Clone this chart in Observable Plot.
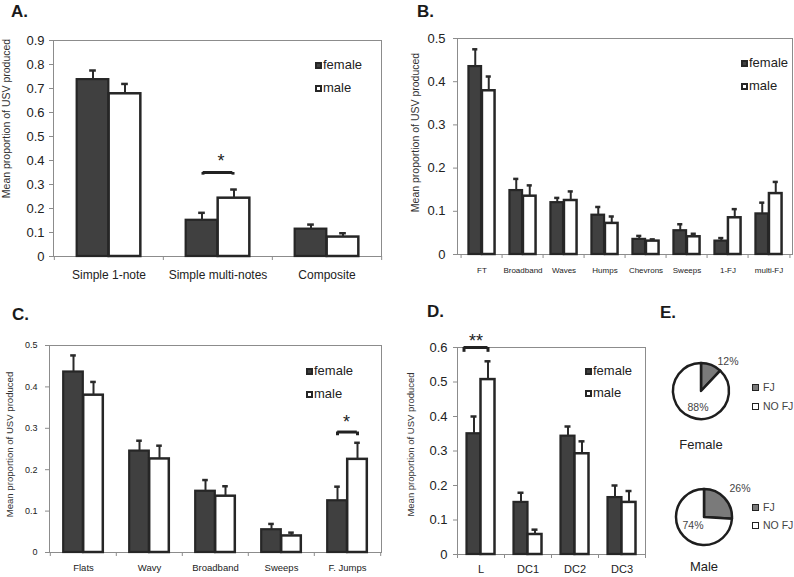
<!DOCTYPE html>
<html><head><meta charset="utf-8">
<script src="https://cdn.jsdelivr.net/npm/d3@7"></script>
<script src="https://cdn.jsdelivr.net/npm/@observablehq/plot@0.6"></script>
<style>
html,body{margin:0;padding:0;background:#fff;}
#root{position:relative;width:794px;height:577px;overflow:hidden;font-family:"Liberation Sans",Arial,sans-serif;color:#222;}
.abs{position:absolute;}
.letter{position:absolute;font-weight:bold;font-size:17px;line-height:17px;color:#1a1a1a;}
.leg{position:absolute;display:flex;align-items:center;height:14px;font-size:13px;line-height:14px;white-space:nowrap;color:#222;}
.sq{box-sizing:border-box;width:7px;height:7px;border:2px solid #262626;margin-right:1px;}
.pleg{position:absolute;display:flex;align-items:center;height:12px;font-size:10.5px;line-height:12px;white-space:nowrap;color:#444;}
.psq{box-sizing:border-box;width:7px;height:7px;border:1.5px solid #222;margin-right:4px;}
.plabel{position:absolute;font-size:13px;line-height:14px;color:#222;transform:translateX(-50%);}
</style></head><body><div id="root"></div>
<script>
// ---------- DATA ----------
const yTitle = "Mean proportion of USV produced";
const sexes = ["female", "male"];

// Panel A
const aCategories = ["Simple 1-note", "Simple multi-notes", "Composite"];
const aFemale   = [0.737, 0.151, 0.114];
const aFemaleUp = [0.775, 0.182, 0.133];
const aMale     = [0.678, 0.243, 0.081];
const aMaleUp   = [0.719, 0.279, 0.097];
const aTicks = [0, 0.1, 0.2, 0.3, 0.4, 0.5, 0.6, 0.7, 0.8, 0.9];

// Panel B
const bCategories = ["FT", "Broadband", "Waves", "Humps", "Chevrons", "Sweeps", "1-FJ", "multi-FJ"];
const bFemale   = [0.435, 0.148, 0.120, 0.091, 0.035, 0.055, 0.031, 0.094];
const bFemaleUp = [0.475, 0.175, 0.131, 0.110, 0.043, 0.070, 0.038, 0.120];
const bMale     = [0.379, 0.135, 0.125, 0.072, 0.031, 0.041, 0.085, 0.141];
const bMaleUp   = [0.412, 0.160, 0.146, 0.088, 0.035, 0.048, 0.105, 0.168];
const bTicks = [0, 0.1, 0.2, 0.3, 0.4, 0.5];

// Panel C
const cCategories = ["Flats", "Wavy", "Broadband", "Sweeps", "F. Jumps"];
const cFemale   = [0.436, 0.245, 0.148, 0.055, 0.125];
const cFemaleUp = [0.476, 0.270, 0.175, 0.069, 0.159];
const cMale     = [0.380, 0.226, 0.136, 0.040, 0.225];
const cMaleUp   = [0.412, 0.258, 0.160, 0.048, 0.265];
const cTicks = [0, 0.1, 0.2, 0.3, 0.4, 0.5];

// Panel D
const dCategories = ["L", "DC1", "DC2", "DC3"];
const dFemale   = [0.350, 0.151, 0.343, 0.165];
const dFemaleUp = [0.400, 0.179, 0.371, 0.200];
const dMale     = [0.507, 0.058, 0.292, 0.151];
const dMaleUp   = [0.560, 0.072, 0.328, 0.184];
const dTicks = [0, 0.1, 0.2, 0.3, 0.4, 0.5, 0.6];

// Significance marks
const aSig = {cat: "Simple multi-notes", y: 0.350, low: 0.339, star: 0.395, text: "*"};
const cSig = {cat: "F. Jumps", y: 0.291, low: 0.282, star: 0.314, text: "*"};
const dSig = {cat: "L", y: 0.600, low: 0.586, star: 0.617, text: "**"};

// Panel E (pies)
const pieSlices = ["FJ", "NO FJ"];
const femalePie = [12, 88];
const malePie = [26, 74];

// ---------- STYLE ----------
const FEMALE_FILL = "#404040", EDGE = "#262626", FRAME = "#8c8c8c";
const root = document.getElementById("root");
const fmt = d => d === 0 ? "0" : d3.format(".1f")(d);

function place(el, left, top) {
  const wrap = document.createElement("div");
  wrap.className = "abs";
  wrap.style.left = left + "px";
  wrap.style.top = top + "px";
  wrap.appendChild(el);
  root.appendChild(wrap);
}

function barPanel(o) {
  const n = o.categories.length;
  const bw = (o.width - o.ml - o.mr) / n, half = bw / 2, w = o.barW, cap = o.capW;
  const rows = (sex, vals, ups) => o.categories.map((c, i) => ({cat: c, sex, v: vals[i], up: ups[i]}));
  const fRows = rows("female", o.female, o.femaleUp);
  const mRows = rows("male", o.male, o.maleUp);
  const errStyle = {stroke: "#2a2a2a", strokeWidth: 2};
  const marks = [
    Plot.frame({stroke: FRAME}),
    Plot.axisY({ticks: o.yTicks, tickSize: 4, tickPadding: o.yPad, tickFormat: fmt, fontSize: o.yFont, stroke: FRAME, fill: "#222", label: null}),
    Plot.axisX({tickSize: 0, tickPadding: o.xPad, fontSize: o.xFont, fill: "#222", label: null}),
    Plot.axisX({tickSize: 4, tickFormat: () => "", dx: -half, stroke: FRAME, label: null}),
    Plot.axisX({ticks: [o.categories[n - 1]], tickSize: 4, tickFormat: () => "", dx: half, stroke: FRAME, label: null}),
    Plot.barY(fRows, {x: "cat", y: "v", fill: FEMALE_FILL, stroke: EDGE, strokeWidth: 2.2, insetLeft: half - w, insetRight: half}),
    Plot.barY(mRows, {x: "cat", y: "v", fill: "#fff", stroke: EDGE, strokeWidth: 2.5, insetLeft: half, insetRight: half - w}),
    Plot.ruleX(fRows, {x: "cat", y1: "v", y2: "up", dx: -w / 2, ...errStyle}),
    Plot.ruleX(mRows, {x: "cat", y1: "v", y2: "up", dx: w / 2, ...errStyle}),
    Plot.tickY(fRows, {x: "cat", y: "up", insetLeft: half - w / 2 - cap / 2, insetRight: half + w / 2 - cap / 2, stroke: "#2a2a2a", strokeWidth: 2.5}),
    Plot.tickY(mRows, {x: "cat", y: "up", insetLeft: half + w / 2 - cap / 2, insetRight: half - w / 2 - cap / 2, stroke: "#2a2a2a", strokeWidth: 2.5}),
    Plot.text([o.title], {frameAnchor: "left", textAnchor: "middle", lineAnchor: "middle", rotate: -90, dx: o.tdx, dy: o.tdy, fontSize: o.tFont, fill: "#333", text: d => d})
  ];
  if (o.sig) {
    const s = o.sig;
    marks.push(
      Plot.tickY([s], {x: "cat", y: "y", insetLeft: half + o.sigL, insetRight: half - o.sigR, stroke: "#222", strokeWidth: 3}),
      Plot.ruleX([s], {x: "cat", y1: "low", y2: "y", dx: o.sigL, stroke: "#222", strokeWidth: 3}),
      Plot.ruleX([s], {x: "cat", y1: "low", y2: "y", dx: o.sigR, stroke: "#222", strokeWidth: 3}),
      Plot.text([s], {x: "cat", y: "star", text: "text", dx: o.starDx, fontSize: 18, fill: "#222"})
    );
  }
  const svg = Plot.plot({
    width: o.width, height: o.height,
    marginLeft: o.ml, marginRight: o.mr, marginTop: o.mt, marginBottom: o.mb,
    style: {fontFamily: "'Liberation Sans', Arial, sans-serif", background: "transparent", color: "#222", overflow: "visible"},
    x: {type: "band", domain: o.categories, padding: 0},
    y: {domain: [0, o.yMax]},
    marks
  });
  place(svg, o.left, o.top);
}

barPanel({categories: aCategories, female: aFemale, femaleUp: aFemaleUp, male: aMale, maleUp: aMaleUp,
  yTicks: aTicks, yMax: 0.9, left: 0, top: 0, width: 400, height: 290, ml: 53, mr: 19, mt: 40, mb: 34,
  barW: 32, capW: 7, yFont: 13, yPad: 5, xFont: 12, xPad: 14, title: yTitle, tdx: -47, tdy: -30, tFont: 10.5,
  sig: aSig, sigL: -15, sigR: 15, starDx: 3});

barPanel({categories: bCategories, female: bFemale, femaleUp: bFemaleUp, male: bMale, maleUp: bMaleUp,
  yTicks: bTicks, yMax: 0.5, left: 400, top: 0, width: 394, height: 290, ml: 57, mr: 2, mt: 38, mb: 36,
  barW: 13.5, capW: 6, yFont: 13, yPad: 8, xFont: 8, xPad: 13, title: yTitle, tdx: -42, tdy: -14, tFont: 10.5});

barPanel({categories: cCategories, female: cFemale, femaleUp: cFemaleUp, male: cMale, maleUp: cMaleUp,
  yTicks: cTicks, yMax: 0.5, left: 0, top: 290, width: 400, height: 287, ml: 49, mr: 19, mt: 55, mb: 25,
  barW: 20, capW: 6, yFont: 9, yPad: 8, xFont: 9.5, xPad: 12, title: yTitle, tdx: -40, tdy: -4.5, tFont: 9.6,
  sig: cSig, sigL: -10, sigR: 10, starDx: -1});

barPanel({categories: dCategories, female: dFemale, femaleUp: dFemaleUp, male: dMale, maleUp: dMaleUp,
  yTicks: dTicks, yMax: 0.6, left: 400, top: 290, width: 260, height: 287, ml: 57, mr: 15, mt: 57, mb: 23,
  barW: 14, capW: 6, yFont: 13, yPad: 6, xFont: 11, xPad: 11, title: yTitle, tdx: -47, tdy: -6.5, tFont: 9.5,
  sig: dSig, sigL: -17, sigR: 7, starDx: -5});

// Panel letters
[["A.", 11, 3], ["B.", 417, 3], ["C.", 12, 306], ["D.", 427, 303], ["E.", 660, 304]].forEach(([t, x, y]) => {
  const d = document.createElement("div");
  d.className = "letter"; d.textContent = t;
  d.style.left = x + "px"; d.style.top = y + "px";
  root.appendChild(d);
});

// Bar legends
function legend(x, yF, yM) {
  [[sexes[0], yF, FEMALE_FILL], [sexes[1], yM, "#fff"]].forEach(([label, y, fill]) => {
    const d = document.createElement("div");
    d.className = "leg";
    d.style.left = x + "px"; d.style.top = (y - 7) + "px";
    const s = document.createElement("div");
    s.className = "sq"; s.style.background = fill;
    d.appendChild(s);
    d.appendChild(document.createTextNode(label));
    root.appendChild(d);
  });
}
legend(315, 65, 88);
legend(741, 63, 86);
legend(306, 371, 394);
legend(585, 371, 393);

// Pies
const pieFills = ["#7a7a7a", "#ffffff"];
function piePanel(values, cx, cy, labels, name, nameY, legY) {
  const R = 28, S = 90;
  const svg = Plot.plot({
    width: S, height: S, margin: 0,
    style: {background: "transparent", overflow: "visible", fontFamily: "'Liberation Sans', Arial, sans-serif"},
    marks: [
      (index, scales, vals, dims) => {
        const g = d3.create("svg:g").attr("transform", `translate(${dims.width / 2},${dims.height / 2})`);
        const arcs = d3.pie().sort(null)(values);
        const arc = d3.arc().innerRadius(0).outerRadius(R);
        g.selectAll("path").data(arcs).join("path")
          .attr("d", arc).attr("fill", (d, i) => pieFills[i])
          .attr("stroke", "#1e1e1e").attr("stroke-width", 2.5).attr("stroke-linejoin", "round");
        g.selectAll("text").data(arcs).join("text")
          .attr("x", (d, i) => labels[i][0]).attr("y", (d, i) => labels[i][1])
          .attr("text-anchor", "middle").attr("dominant-baseline", "central")
          .attr("font-size", 10.5).attr("fill", "#444")
          .text(d => d.value + "%");
        return g.node();
      }
    ]
  });
  place(svg, cx - S / 2, cy - S / 2);
  const n = document.createElement("div");
  n.className = "plabel"; n.textContent = name;
  n.style.left = cx + "px"; n.style.top = (nameY - 7) + "px";
  root.appendChild(n);
  pieSlices.forEach((lab, i) => {
    const d = document.createElement("div");
    d.className = "pleg";
    d.style.left = "752px"; d.style.top = (legY[i] - 6) + "px";
    const s = document.createElement("div");
    s.className = "psq"; s.style.background = pieFills[i];
    d.appendChild(s);
    d.appendChild(document.createTextNode(lab));
    root.appendChild(d);
  });
}
piePanel(femalePie, 701, 391, [[27, -30], [-3, 16]], "Female", 445, [387, 406]);
piePanel(malePie, 704, 517, [[36, -29], [-11, 8]], "Male", 567, [507, 525]);
</script>
</body></html>
